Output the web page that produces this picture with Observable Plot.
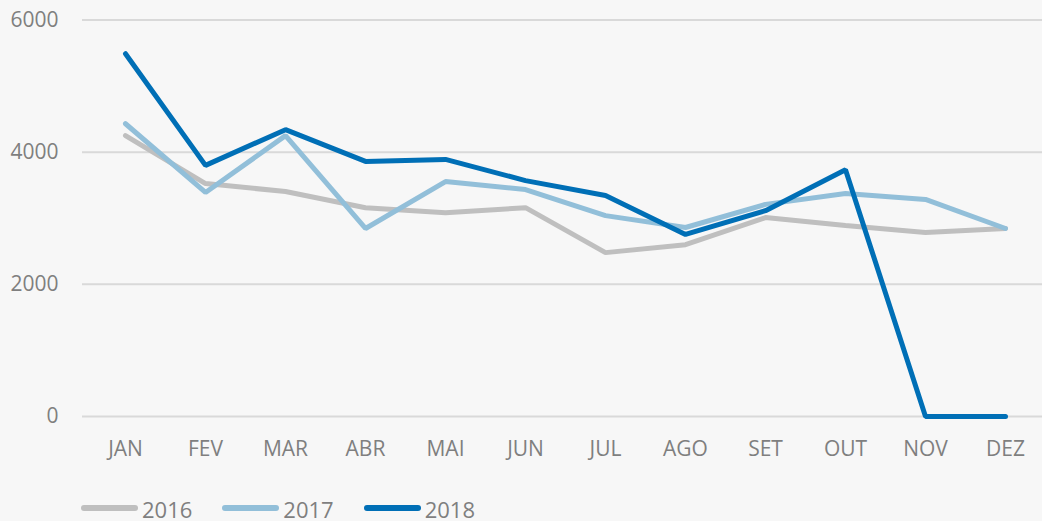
<!DOCTYPE html>
<html>
<head>
<meta charset="utf-8">
<script src="https://cdn.jsdelivr.net/npm/d3@7"></script>
<script src="https://cdn.jsdelivr.net/npm/@observablehq/plot@0.6"></script>
<style>
  html, body { margin: 0; padding: 0; background: #f7f7f7; overflow: hidden; width: 1042px; height: 521px; }
  #chart { position: relative; width: 1042px; height: 521px; }
  #legend { position: absolute; left: 81px; top: 498px; display: flex; align-items: flex-start; font-family: "Open Sans", sans-serif; font-size: 22px; line-height: 22px; color: #7f7f7f; }
  .item { display: flex; align-items: flex-start; margin-right: 30px; }
  .sw { width: 57px; height: 6px; border-radius: 3px; margin-right: 4px; margin-top: 7px; }
</style>
</head>
<body>
<div id="chart"></div>
<script>
const months = ["JAN","FEV","MAR","ABR","MAI","JUN","JUL","AGO","SET","OUT","NOV","DEZ"];
const years = ["2016","2017","2018"];
const colors = ["#bfbfbf","#92bfd9","#006fb6"];
const values2016 = [4250,3525,3405,3160,3085,3160,2480,2600,3010,2890,2785,2845];
const values2017 = [4430,3390,4250,2845,3555,3435,3040,2860,3210,3375,3285,2845];
const values2018 = [5490,3800,4340,3860,3890,3570,3345,2755,3115,3735,0,0];
const yTicks = [0,2000,4000,6000];

const series = [values2016, values2017, values2018];
const data = [];
years.forEach((yr, i) => series[i].forEach((v, j) => data.push({year: yr, month: months[j], value: v})));

const plot = Plot.plot({
  width: 1042,
  height: 470,
  marginLeft: 82,
  marginRight: 0,
  marginTop: 19,
  marginBottom: 54,
  style: {background: "transparent", fontFamily: "'Open Sans', sans-serif", fontSize: "21px", color: "#7f7f7f"},
  x: {type: "point", domain: months, padding: 0.5, range: [82, 1047], label: null},
  y: {domain: [0, 6000], range: [416, 19.5], label: null},
  color: {domain: years, range: colors},
  marks: [
    Plot.ruleY(yTicks, {stroke: "#d9d9d9", strokeWidth: 2}),
    Plot.axisY({ticks: yTicks, tickFormat: d => String(d), tickSize: 0, tickPadding: 24, label: null, fill: "#7f7f7f"}),
    Plot.axisX({tickSize: 0, tickPadding: 25, label: null, fill: "#7f7f7f"}),
    Plot.line(data, {x: "month", y: "value", z: "year", stroke: "year", strokeWidth: 5, strokeLinejoin: "miter", strokeLinecap: "round"})
  ]
});
document.getElementById("chart").appendChild(plot);

const legend = document.createElement("div");
legend.id = "legend";
years.forEach((yr, i) => {
  const it = document.createElement("div");
  it.className = "item";
  const sw = document.createElement("div");
  sw.className = "sw";
  sw.style.background = colors[i];
  const t = document.createElement("span");
  t.textContent = yr;
  it.appendChild(sw);
  it.appendChild(t);
  legend.appendChild(it);
});
document.getElementById("chart").appendChild(legend);
</script>
</body>
</html>
